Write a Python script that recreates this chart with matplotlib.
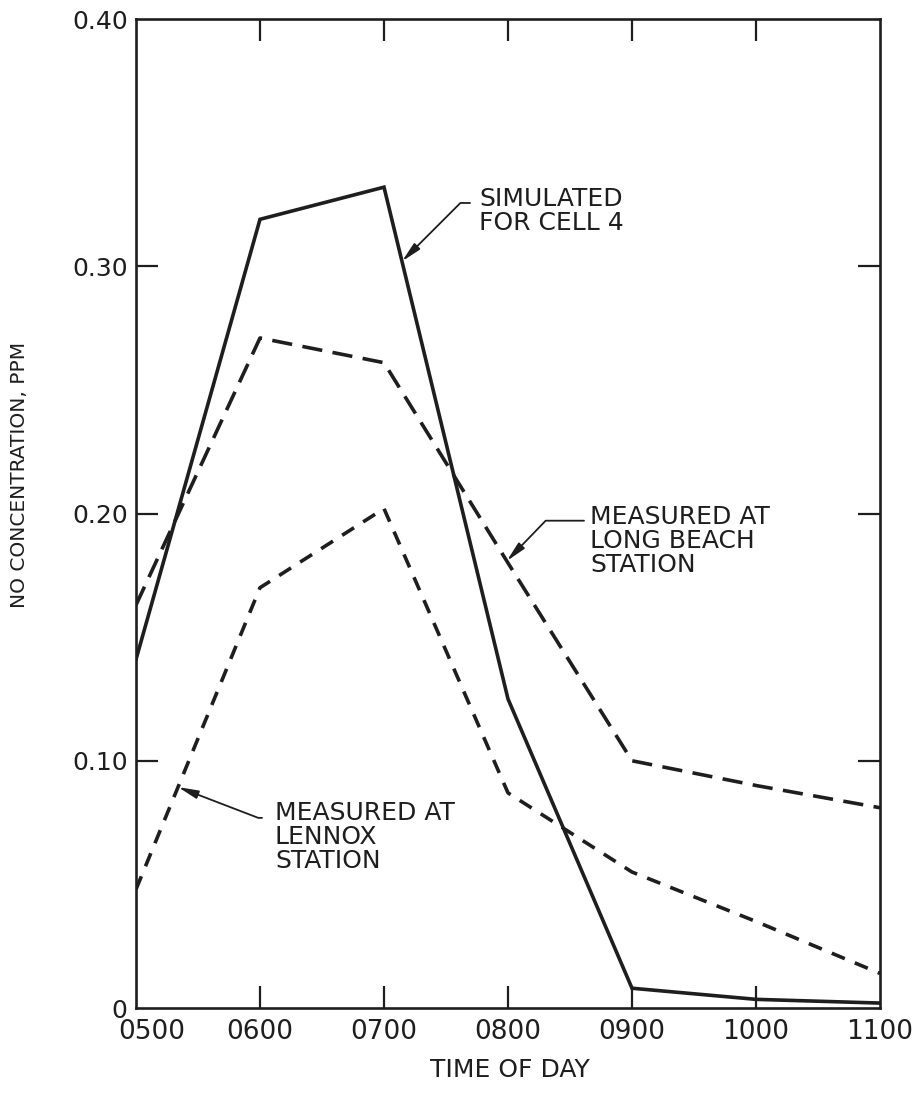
import numpy as np
import matplotlib
matplotlib.use("Agg")
import matplotlib.pyplot as plt
from matplotlib.transforms import ScaledTranslation

# Hourly NO concentrations (ppm)
hours = [5, 6, 7, 8, 9, 10, 11]
hour_labels = ["0500", "0600", "0700", "0800", "0900", "1000", "1100"]
simulated_cell4 = [0.141, 0.319, 0.332, 0.125, 0.008, 0.0035, 0.002]
long_beach = [0.163, 0.271, 0.261, 0.180, 0.100, 0.090, 0.081]
lennox = [0.048, 0.170, 0.202, 0.087, 0.055, 0.035, 0.014]

y_ticks = [0.0, 0.10, 0.20, 0.30, 0.40]
y_tick_labels = ["0", "0.10", "0.20", "0.30", "0.40"]

plt.rcParams["font.family"] = ["DejaVu Sans"]

fig = plt.figure(figsize=(9.14, 10.94), dpi=100)
ax = fig.add_axes([0.1488, 0.0786, 0.8140, 0.9040])

ink = "#1e1e1e"
ax.plot(hours, simulated_cell4, color=ink, lw=2.6, solid_joinstyle="miter")
ax.plot(hours, long_beach, color=ink, lw=2.6, linestyle=(0, (5.6, 2.9)))
ax.plot(hours, lennox, color=ink, lw=2.6, linestyle=(0, (3.9, 3.0)))

ax.set_xlim(5, 11)
ax.set_ylim(0, 0.40)

ax.set_xticks(hours)
ax.set_xticklabels(hour_labels)
ax.set_yticks(y_ticks)
ax.set_yticklabels(y_tick_labels)

ax.tick_params(axis="both", which="major", direction="in", length=16, width=1.6,
               top=True, right=True, colors=ink, labelsize=19)
ax.tick_params(axis="x", pad=8)
ax.tick_params(axis="y", pad=6, labelsize=18)

# tick marks at the frame corners would just sit on the spines; hide them
for axis in (ax.xaxis, ax.yaxis):
    ticks = axis.get_major_ticks()
    for t in (ticks[0], ticks[-1]):
        t.tick1line.set_visible(False)
        t.tick2line.set_visible(False)

# nudge the first hour label right so it clears the zero label
first = ax.get_xticklabels()[0]
first.set_transform(first.get_transform() + ScaledTranslation(0.16, 0, fig.dpi_scale_trans))

for s in ax.spines.values():
    s.set_linewidth(1.9)
    s.set_color(ink)

ax.set_xlabel("TIME OF DAY", fontsize=18, color=ink)
ax.set_ylabel("NO CONCENTRATION, PPM", fontsize=14.5, color=ink)
ax.xaxis.set_label_coords(0.503, -0.063)
ax.xaxis.label.set_va("center")
ax.yaxis.set_label_coords(-0.156, 0.539)
ax.yaxis.label.set_va("center")

arrow_kw = dict(arrowstyle="-|>,head_length=1.2,head_width=0.25", color=ink,
                lw=1.3, shrinkA=0, shrinkB=0)
txt_kw = dict(fontsize=18, color=ink, ha="left", va="top", linespacing=1.0)

# Simulated curve label
sx = 7.145
ax.annotate("", xy=(sx, np.interp(sx, hours, simulated_cell4)), xytext=(7.694, 0.3256),
            arrowprops=dict(connectionstyle="angle,angleA=0,angleB=45,rad=0", **arrow_kw))
ax.text(7.766, 0.3322, "SIMULATED\nFOR CELL 4", **txt_kw)

# Long Beach curve label
lx = 7.99
ax.annotate("", xy=(lx, np.interp(lx, hours, long_beach)), xytext=(8.613, 0.1971),
            arrowprops=dict(connectionstyle="angle,angleA=0,angleB=46,rad=0", **arrow_kw))
ax.text(8.665, 0.2034, "MEASURED AT\nLONG BEACH\nSTATION", **txt_kw)

# Lennox curve label
nx = 5.339
ax.annotate("", xy=(nx, np.interp(nx, hours, lennox)), xytext=(6.016, 0.0769),
            arrowprops=dict(connectionstyle="angle,angleA=0,angleB=-21,rad=0", **arrow_kw))
ax.text(6.12, 0.0837, "MEASURED AT\nLENNOX\nSTATION", **txt_kw)

fig.savefig("out.png", dpi=100, facecolor="white")
